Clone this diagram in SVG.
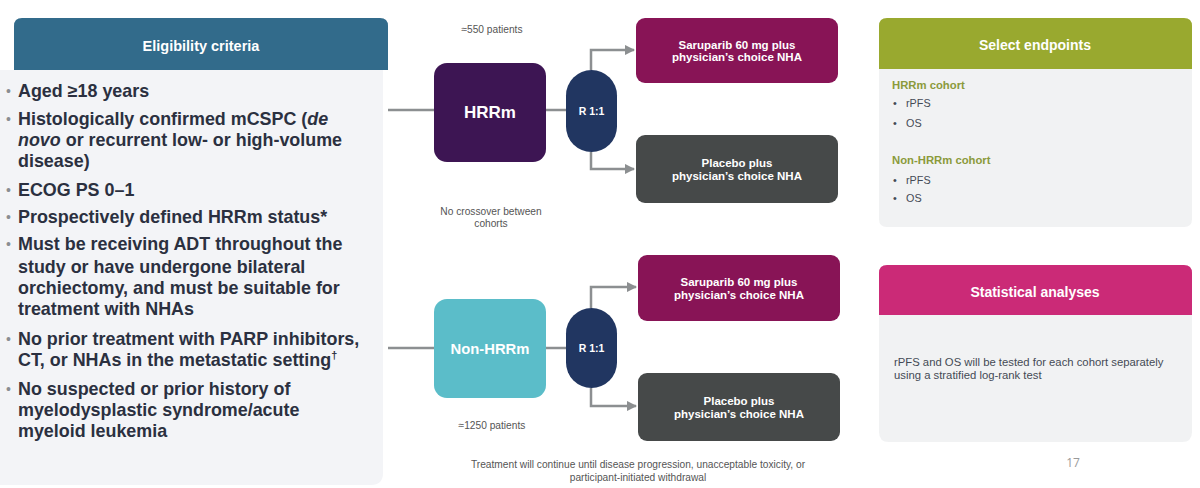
<svg xmlns="http://www.w3.org/2000/svg" width="1200" height="488" viewBox="0 0 1200 488">
<defs>
<style>
.hdr{font-family:"Liberation Sans",Arial,sans-serif;font-weight:bold;fill:#fff;text-anchor:middle}
.crit{font-family:"Liberation Sans",Arial,sans-serif;font-weight:bold;font-size:17.9px;fill:#2b3040}
.bul{font-family:"Liberation Sans",Arial,sans-serif;font-size:14px;fill:#8a8d92}
.small{font-family:"Liberation Sans",Arial,sans-serif;font-size:10.2px;fill:#555;text-anchor:middle}
.arm{font-family:"Liberation Sans",Arial,sans-serif;font-weight:bold;font-size:11.5px;fill:#fff;text-anchor:middle}
.coh{font-family:"Liberation Sans",Arial,sans-serif;font-weight:bold;font-size:11.3px;fill:#8b9a3b}
.ep{font-family:"Liberation Sans",Arial,sans-serif;font-size:10.8px;fill:#444a55}
.body{font-family:"Liberation Sans",Arial,sans-serif;font-size:11.3px;fill:#444a55}
.conn{fill:none;stroke:#8c8f91;stroke-width:2.5}
</style>
<marker id="ah" viewBox="0 0 10 10" refX="9" refY="5" markerWidth="4.2" markerHeight="4.2" orient="auto" markerUnits="strokeWidth">
<path d="M0,0 L10,5 L0,10 Z" fill="#8c8f91"/>
</marker>
</defs>
<rect width="1200" height="488" fill="#ffffff"/>

<g id="eligibility">
<path d="M0,70 H383 V473 Q383,485 371,485 H0 Z" fill="#f3f4f7"/>
<path d="M14,70 V26 Q14,18 22,18 H380 Q388,18 388,26 V70 Z" fill="#326b8b"/>
<text class="hdr" x="201" y="51" font-size="14.5">Eligibility criteria</text>
<g>
<text class="bul" x="6" y="96">•</text><text class="crit" x="18" y="97">Aged ≥18 years</text>
<text class="bul" x="6" y="124">•</text><text class="crit" x="18" y="125">Histologically confirmed mCSPC (<tspan font-style="italic">de</tspan></text>
<text class="crit" x="18" y="146"><tspan font-style="italic">novo</tspan> or recurrent low- or high-volume</text>
<text class="crit" x="18" y="167">disease)</text>
<text class="bul" x="6" y="195">•</text><text class="crit" x="18" y="196">ECOG PS 0–1</text>
<text class="bul" x="6" y="222">•</text><text class="crit" x="18" y="223">Prospectively defined HRRm status*</text>
<text class="bul" x="6" y="249">•</text><text class="crit" x="18" y="250">Must be receiving ADT throughout the</text>
<text class="crit" x="18" y="273">study or have undergone bilateral</text>
<text class="crit" x="18" y="294">orchiectomy, and must be suitable for</text>
<text class="crit" x="18" y="315">treatment with NHAs</text>
<text class="bul" x="6" y="344">•</text><text class="crit" x="18" y="345">No prior treatment with PARP inhibitors,</text>
<text class="crit" x="18" y="366">CT, or NHAs in the metastatic setting<tspan font-size="11" dy="-7">†</tspan></text>
<text class="bul" x="6" y="394">•</text><text class="crit" x="18" y="395">No suspected or prior history of</text>
<text class="crit" x="18" y="416">myelodysplastic syndrome/acute</text>
<text class="crit" x="18" y="437">myeloid leukemia</text>
</g>
</g>

<g id="connectors">
<line class="conn" x1="388" y1="110" x2="434" y2="110"/>
<line class="conn" x1="546" y1="110" x2="566" y2="110"/>
<path class="conn" d="M591,70 V50 H634" marker-end="url(#ah)"/>
<path class="conn" d="M591,152 V169 H634" marker-end="url(#ah)"/>
<line class="conn" x1="388" y1="348" x2="434" y2="348"/>
<line class="conn" x1="546" y1="348" x2="566" y2="348"/>
<path class="conn" d="M591,308 V287 H636" marker-end="url(#ah)"/>
<path class="conn" d="M591,388 V406 H636" marker-end="url(#ah)"/>
</g>

<g id="hrrm-label"><text class="small" x="492" y="33">≈550 patients</text></g>
<g id="hrrm">
<rect x="434" y="63" width="112" height="99" rx="13" fill="#3d1553"/>
<text class="hdr" x="490" y="118" font-size="17">HRRm</text>
</g>
<g id="rand1">
<rect x="566" y="70" width="51" height="82" rx="25.5" fill="#213661"/>
<text class="hdr" x="591.5" y="115" font-size="10.5">R 1:1</text>
</g>
<g id="saru1">
<rect x="636" y="18" width="202" height="65" rx="9" fill="#881456"/>
<text class="arm" x="737" y="49">Saruparib 60 mg plus</text>
<text class="arm" x="737" y="61">physician’s choice NHA</text>
</g>
<g id="placebo1">
<rect x="636" y="135" width="202" height="68" rx="9" fill="#464949"/>
<text class="arm" x="737" y="167">Placebo plus</text>
<text class="arm" x="737" y="180">physician’s choice NHA</text>
</g>
<g id="crossover">
<text class="small" x="491" y="215">No crossover between</text>
<text class="small" x="491" y="227">cohorts</text>
</g>

<g id="nonhrrm">
<rect x="434" y="299" width="112" height="99" rx="13" fill="#5bbdc9"/>
<text class="hdr" x="490" y="354" font-size="14.8">Non-HRRm</text>
</g>
<g id="nonhrrm-label"><text class="small" x="492" y="429">≈1250 patients</text></g>
<g id="rand2">
<rect x="566" y="308" width="51" height="80" rx="25.5" fill="#213661"/>
<text class="hdr" x="591.5" y="352" font-size="10.5">R 1:1</text>
</g>
<g id="saru2">
<rect x="638" y="255" width="202" height="66" rx="9" fill="#881456"/>
<text class="arm" x="739" y="286">Saruparib 60 mg plus</text>
<text class="arm" x="739" y="299">physician’s choice NHA</text>
</g>
<g id="placebo2">
<rect x="638" y="373" width="202" height="68" rx="9" fill="#464949"/>
<text class="arm" x="739" y="405">Placebo plus</text>
<text class="arm" x="739" y="418">physician’s choice NHA</text>
</g>
<g id="footnote">
<text class="small" x="638" y="468">Treatment will continue until disease progression, unacceptable toxicity, or</text>
<text class="small" x="638" y="481">participant-initiated withdrawal</text>
</g>

<g id="endpoints">
<path d="M879,69 H1192 V219 Q1192,227 1184,227 H887 Q879,227 879,219 Z" fill="#f1f2f3"/>
<path d="M879,69 V26 Q879,18 887,18 H1184 Q1192,18 1192,26 V69 Z" fill="#99a92f"/>
<text class="hdr" x="1035" y="50" font-size="14">Select endpoints</text>
<text class="coh" x="892" y="89">HRRm cohort</text>
<text class="ep" x="893" y="107">•</text><text class="ep" x="906" y="107">rPFS</text>
<text class="ep" x="893" y="127">•</text><text class="ep" x="906" y="127">OS</text>
<text class="coh" x="892" y="164">Non-HRRm cohort</text>
<text class="ep" x="893" y="184">•</text><text class="ep" x="906" y="184">rPFS</text>
<text class="ep" x="893" y="202">•</text><text class="ep" x="906" y="202">OS</text>
</g>

<g id="stats">
<path d="M879,315 H1192 V432 Q1192,442 1182,442 H889 Q879,442 879,432 Z" fill="#f1f2f3"/>
<path d="M879,315 V273 Q879,265 887,265 H1184 Q1192,265 1192,273 V315 Z" fill="#cb2a77"/>
<text class="hdr" x="1035" y="297" font-size="14">Statistical analyses</text>
<text class="body" x="894" y="366">rPFS and OS will be tested for each cohort separately</text>
<text class="body" x="894" y="379">using a stratified log-rank test</text>
</g>
<text x="1073" y="467" font-family="'Open Sans','Liberation Sans',sans-serif" font-size="12" fill="#9a9a9a" text-anchor="middle">17</text>
</svg>
